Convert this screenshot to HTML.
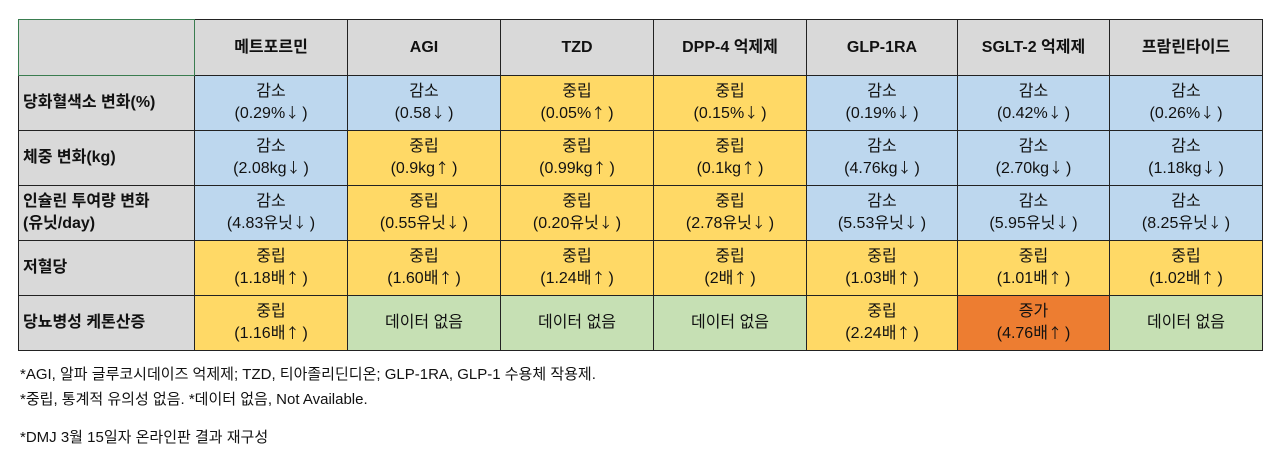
<!DOCTYPE html>
<html><head><meta charset="utf-8"><style>
body{margin:0;width:1280px;height:454px;background:#fff;font-family:"Liberation Sans","Noto Sans CJK KR",sans-serif;position:relative;overflow:hidden}
table{position:absolute;left:18px;top:19px;border-collapse:collapse;table-layout:fixed}
td{border:1.5px solid #222;text-align:center;font-size:16px;line-height:22px;color:#111;padding:0;overflow:hidden}
tr.h td{height:55px;background:#d9d9d9;font-weight:bold}
tr.r td{height:54px}
td.l{background:#d9d9d9;font-weight:bold;text-align:left;padding-left:4px;font-size:16px}
.b{background:#bdd7ee}.y{background:#ffd966}.g{background:#c6e0b4}.o{background:#ed7d31}
.n{position:absolute;left:20px;font-size:15px;color:#111}
i{font-style:normal;font-family:"Noto Sans CJK KR",sans-serif;font-size:14px;line-height:1;margin-right:3px}
</style></head><body>
<table>
<colgroup><col style="width:176px"><col style="width:153px"><col style="width:153px"><col style="width:153px"><col style="width:153px"><col style="width:151px"><col style="width:152px"><col style="width:153px"></colgroup>
<tr class="h"><td style="border-color:#3a7d50"></td><td>메트포르민</td><td>AGI</td><td>TZD</td><td>DPP-4 억제제</td><td>GLP-1RA</td><td>SGLT-2 억제제</td><td>프람린타이드</td></tr>
<tr class="r"><td class="l">당화혈색소 변화(%)</td><td class="b">감소<br>(0.29%<i>↓</i>)</td><td class="b">감소<br>(0.58<i>↓</i>)</td><td class="y">중립<br>(0.05%<i>↑</i>)</td><td class="y">중립<br>(0.15%<i>↓</i>)</td><td class="b">감소<br>(0.19%<i>↓</i>)</td><td class="b">감소<br>(0.42%<i>↓</i>)</td><td class="b">감소<br>(0.26%<i>↓</i>)</td></tr>
<tr class="r"><td class="l">체중 변화(kg)</td><td class="b">감소<br>(2.08kg<i>↓</i>)</td><td class="y">중립<br>(0.9kg<i>↑</i>)</td><td class="y">중립<br>(0.99kg<i>↑</i>)</td><td class="y">중립<br>(0.1kg<i>↑</i>)</td><td class="b">감소<br>(4.76kg<i>↓</i>)</td><td class="b">감소<br>(2.70kg<i>↓</i>)</td><td class="b">감소<br>(1.18kg<i>↓</i>)</td></tr>
<tr class="r"><td class="l">인슐린 투여량 변화<br>(유닛/day)</td><td class="b">감소<br>(4.83유닛<i>↓</i>)</td><td class="y">중립<br>(0.55유닛<i>↓</i>)</td><td class="y">중립<br>(0.20유닛<i>↓</i>)</td><td class="y">중립<br>(2.78유닛<i>↓</i>)</td><td class="b">감소<br>(5.53유닛<i>↓</i>)</td><td class="b">감소<br>(5.95유닛<i>↓</i>)</td><td class="b">감소<br>(8.25유닛<i>↓</i>)</td></tr>
<tr class="r"><td class="l">저혈당</td><td class="y">중립<br>(1.18배<i>↑</i>)</td><td class="y">중립<br>(1.60배<i>↑</i>)</td><td class="y">중립<br>(1.24배<i>↑</i>)</td><td class="y">중립<br>(2배<i>↑</i>)</td><td class="y">중립<br>(1.03배<i>↑</i>)</td><td class="y">중립<br>(1.01배<i>↑</i>)</td><td class="y">중립<br>(1.02배<i>↑</i>)</td></tr>
<tr class="r"><td class="l">당뇨병성 케톤산증</td><td class="y">중립<br>(1.16배<i>↑</i>)</td><td class="g">데이터 없음</td><td class="g">데이터 없음</td><td class="g">데이터 없음</td><td class="y">중립<br>(2.24배<i>↑</i>)</td><td class="o">증가<br>(4.76배<i>↑</i>)</td><td class="g">데이터 없음</td></tr>
</table>
<div class="n" style="top:363px">*AGI, 알파 글루코시데이즈 억제제; TZD, 티아졸리딘디온; GLP-1RA, GLP-1 수용체 작용제.</div>
<div class="n" style="top:388px">*중립, 통계적 유의성 없음. *데이터 없음, Not Available.</div>
<div class="n" style="top:426px">*DMJ 3월 15일자 온라인판 결과 재구성</div>
</body></html>
